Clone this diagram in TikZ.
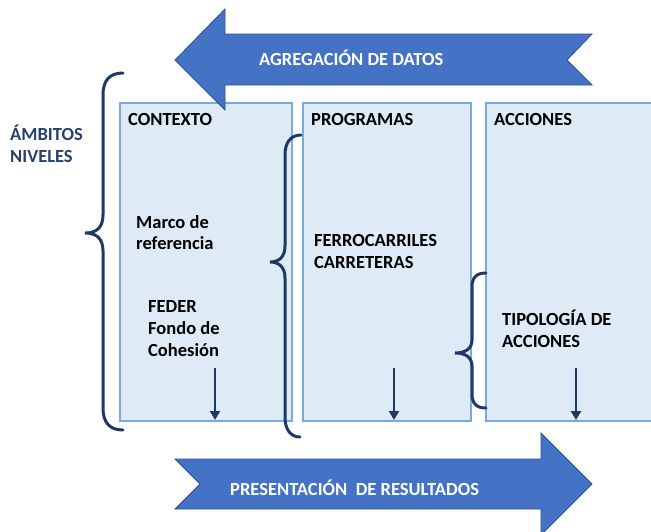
\documentclass[tikz,border=0pt]{standalone}
\usepackage{fontspec}
\setmainfont{Carlito}[BoldFont={Carlito Bold}]
\usetikzlibrary{arrows.meta}
\definecolor{arrowfill}{HTML}{4472C4}
\definecolor{arrowline}{HTML}{2F528F}
\definecolor{boxfill}{HTML}{DEEBF7}
\definecolor{boxline}{RGB}{120,170,220}
\definecolor{navy}{HTML}{203864}
\definecolor{ambit}{RGB}{40,64,110}
\tikzset{
  panel/.style={fill=boxfill,draw=boxline,line width=1.6pt},
  bigarrow/.style={fill=arrowfill,draw=arrowline,line width=0.8pt},
  brace/.style={draw=navy,line width=3pt,line cap=round},
  down/.style={draw=navy,line width=2.4pt,-{Triangle[length=9pt,width=10pt]}},
  lbl/.style={anchor=base west,inner sep=0pt,font=\fontsize{18.5}{22}\selectfont\bfseries},
  wlbl/.style={lbl,text=white},
}
\begin{document}
\begin{tikzpicture}[x=1pt,y=-1pt]
\useasboundingbox (0,0) rectangle (651,531);
% panels
\path[panel] (120,103) rectangle (292,421);
\path[panel] (303,103) rectangle (471,421);
\path[panel] (486,103) rectangle (660,421);
% braces
\path[brace] (123,73) .. controls (110,73) and (103,80) .. (103,95) -- (103,215)
  .. controls (103,228) and (96,233) .. (85,233)
  .. controls (96,233) and (103,238) .. (103,251) -- (103,408)
  .. controls (103,423) and (110,430) .. (123,430);
\path[brace] (301,135) .. controls (291,135) and (285,142) .. (285,155) -- (285,246)
  .. controls (285,257) and (279,262) .. (270,262)
  .. controls (279,262) and (285,267) .. (285,278) -- (285,417)
  .. controls (285,430) and (291,437) .. (300,437);
\path[brace] (486,273) .. controls (477,273) and (472,277) .. (472,287) -- (472,340)
  .. controls (472,349) and (465,353) .. (455,353)
  .. controls (465,353) and (472,357) .. (472,366) -- (472,394)
  .. controls (472,404) and (477,408) .. (486,408);
% big arrows
\path[bigarrow] (175,60) -- (225,9) -- (225,34) -- (592,34) -- (567,60) -- (592,85)
  -- (225,85) -- (225,110) -- cycle;
\path[bigarrow] (175,459) -- (541,459) -- (541,433) -- (592,484) -- (541,535)
  -- (541,509) -- (175,509) -- (200,484) -- cycle;
% down arrows
\coordinate (d1a) at (215,368); \coordinate (d1b) at (215,420);
\coordinate (d2a) at (394,368); \coordinate (d2b) at (394,420);
\coordinate (d3a) at (576,368); \coordinate (d3b) at (576,420);
\draw[down] (d1a) -- (d1b);
\draw[down] (d2a) -- (d2b);
\draw[down] (d3a) -- (d3b);
% texts
\node[wlbl] (agr) at (259,65) {AGREGACIÓN DE DATOS};
\node[wlbl] (pres) at (230,495) {PRESENTACIÓN\ \ DE RESULTADOS};
\node[lbl,text=ambit] (amb1) at (10,140) {ÁMBITOS};
\node[lbl,text=ambit] (amb2) at (10,162) {NIVELES};
\node[lbl] (ctx) at (128,125) {CONTEXTO};
\node[lbl] (prg) at (311,125) {PROGRAMAS};
\node[lbl] (acc) at (494,125) {ACCIONES};
\node[lbl] (m1) at (136,228) {Marco de};
\node[lbl] (m2) at (136,249) {referencia};
\node[lbl] (f1) at (148,312) {FEDER};
\node[lbl] (f2) at (148,334) {Fondo de};
\node[lbl] (f3) at (148,356.5) {Cohesión};
\node[lbl] (r1) at (314,246) {FERROCARRILES};
\node[lbl] (r2) at (314,268) {CARRETERAS};
\node[lbl] (t1) at (502,325.5) {TIPOLOGÍA DE};
\node[lbl] (t2) at (502,347) {ACCIONES};
\end{tikzpicture}
\end{document}
